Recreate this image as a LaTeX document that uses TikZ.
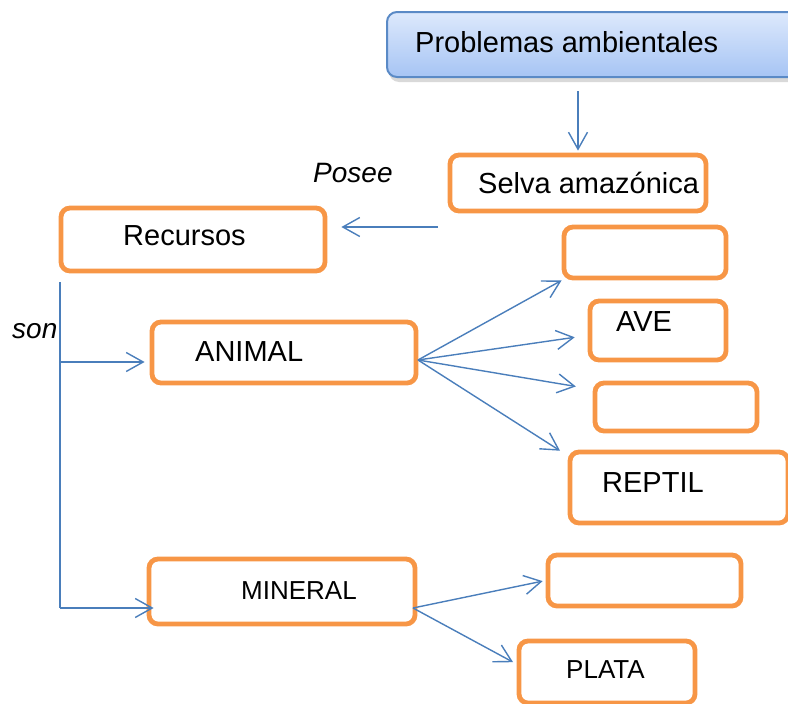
\documentclass[tikz,border=0pt]{standalone}
\usepackage{fontspec}
\setmainfont{Liberation Sans}
\usetikzlibrary{arrows.meta,calc,shadows}
\definecolor{naranja}{HTML}{F79646}
\definecolor{flecha}{HTML}{4A7EBB}
\definecolor{azulborde}{HTML}{5A8AC6}
\definecolor{azularriba}{HTML}{DDE9FC}
\definecolor{azulabajo}{HTML}{A6C4F4}
\tikzset{
  caja/.style={draw=naranja, line width=4.8pt, rounded corners=9pt, inner sep=0pt},
  texto/.style={inner sep=0pt, anchor=base west, font=\fontsize{29}{34}\selectfont},
  chico/.style={texto, font=\fontsize{26}{31}\selectfont},
  conector/.style={draw=flecha, line width=1.4pt}
}
\begin{document}
\begin{tikzpicture}[
                    x=1pt, y=-1pt,
                    >={Straight Barb[length=17pt,width=19pt]}
                ]
    \useasboundingbox (0,0) rectangle (788,704);
    % Blocks
    \node [draw=azulborde, line width=2pt, rounded corners=10pt,
           top color=azularriba, bottom color=azulabajo,
           drop shadow={shadow xshift=2pt, shadow yshift=-5pt, opacity=.3},
           minimum width=412pt, minimum height=65pt] (problemas) at (593,44.5) {};
    \node [caja, minimum width=256pt, minimum height=56pt] (selva) at (578,183) {};
    \node [caja, minimum width=264pt, minimum height=63pt] (recursos) at (193,239.5) {};
    \node [caja, minimum width=264pt, minimum height=61pt] (animal) at (284,352.5) {};
    \node [caja, minimum width=162pt, minimum height=51pt] (vacio1) at (645,252.5) {};
    \node [caja, minimum width=136pt, minimum height=59pt] (ave) at (658,330.5) {};
    \node [caja, minimum width=162pt, minimum height=48pt] (vacio2) at (676,407) {};
    \node [caja, minimum width=218pt, minimum height=71pt] (reptil) at (679,487.5) {};
    \node [caja, minimum width=266pt, minimum height=65pt] (mineral) at (282,591.5) {};
    \node [caja, minimum width=193pt, minimum height=51pt] (vacio3) at (644.5,580.5) {};
    \node [caja, minimum width=176pt, minimum height=62pt] (plata) at (607,672) {};

    % Texts
    \node [texto] (lblproblemas) at (415,52) {Problemas ambientales};
    \node [texto] (lblselva) at (478,193) {Selva amazónica};
    \node [texto] (lblrecursos) at (123,245) {Recursos};
    \node [texto] (lblanimal) at (195,361) {ANIMAL};
    \node [texto] (lblave) at (616,331) {AVE};
    \node [texto] (lblreptil) at (602,492) {REPTIL};
    \node [chico] (lblmineral) at (241,599) {MINERAL};
    \node [chico] (lblplata) at (566,678) {PLATA};
    \node [texto, font=\fontsize{28}{33}\selectfont\itshape] (posee) at (313,182) {Posee};
    \node [texto, font=\fontsize{28}{33}\selectfont\itshape] (son) at (12,338) {son};

    % Connections
    \coordinate (poseesal) at (438,227);
    \coordinate (tronco) at (60,282);
    \coordinate (ramaA) at (60,362);
    \coordinate (ramaB) at (60,608);
    \coordinate (animalsal) at (418,360);
    \coordinate (mineralsal) at (413,608);
    \draw [conector, ->, shorten <=13pt, shorten >=2pt] (selva.north |- problemas.south) -- (selva.north);
    \draw [conector, ->, shorten >=14pt] (poseesal) -- (poseesal -| recursos.east);
    \draw [conector] (tronco) -- (ramaB);
    \draw [conector, ->, shorten >=5pt] (ramaA) -- (ramaA -| animal.west);
    \draw [conector, ->, shorten >=-7pt] (ramaB) -- (ramaB -| mineral.west);
    \foreach \dest/\corto in {vacio1.south west/0pt, ave.184/13pt, vacio2.168/17pt, reptil.164/9pt}
        \draw [conector, ->, shorten >=\corto] (animalsal) -- (\dest);
    \foreach \dest/\corto in {vacio3.west/3pt, plata.175/4pt}
        \draw [conector, ->, shorten >=\corto] (mineralsal) -- (\dest);
\end{tikzpicture}
\end{document}
